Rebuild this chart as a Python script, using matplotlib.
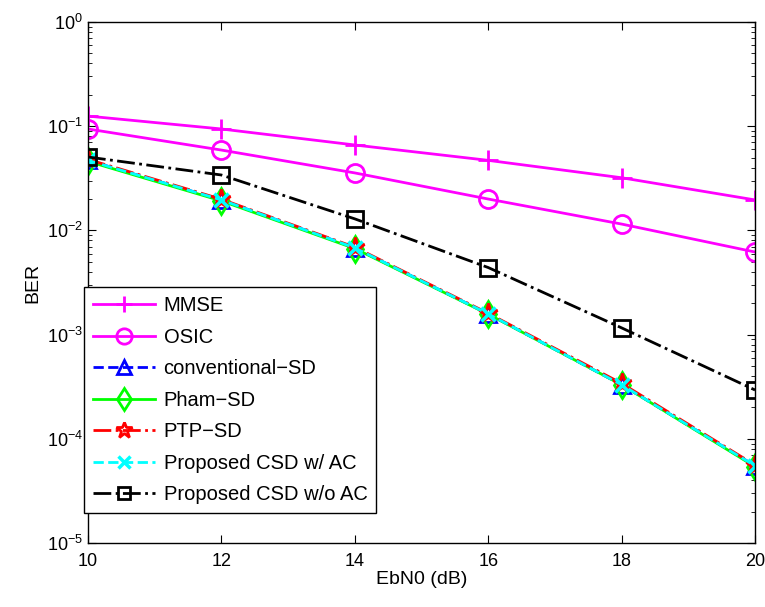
import matplotlib.pyplot as plt
from matplotlib.ticker import LogLocator, NullFormatter

ebn0 = [10, 12, 14, 16, 18, 20]

mmse = [0.125, 0.094, 0.066, 0.047, 0.032, 0.0196]
osic = [0.094, 0.059, 0.0356, 0.020, 0.0115, 0.0062]
conv_sd = [0.047, 0.0196, 0.0068, 0.00158, 0.00033, 5.5e-5]
pham_sd = [0.046, 0.0192, 0.0067, 0.00157, 0.00033, 5.4e-5]
ptp_sd = [0.048, 0.0199, 0.0069, 0.00160, 0.00034, 5.6e-5]
csd_ac = [0.047, 0.0196, 0.0068, 0.00158, 0.00033, 5.5e-5]
csd_noac = [0.0506, 0.034, 0.0129, 0.0044, 0.00116, 0.000294]

plt.rcParams['font.family'] = ['Liberation Sans', 'DejaVu Sans']

fig = plt.figure(figsize=(7.65, 6.07), dpi=100)
ax = fig.add_axes([0.115, 0.1054, 0.872, 0.8584])

ax.semilogy(ebn0, mmse, color='#ff00ff', ls='-', lw=2, marker='+', ms=14, mew=2, label='MMSE')
ax.semilogy(ebn0, osic, color='#ff00ff', ls='-', lw=2, marker='o', ms=13, mew=2,
            mfc='none', label='OSIC')
ax.semilogy(ebn0, conv_sd, color='#0000ff', ls='--', lw=2, marker='^', ms=12, mew=2,
            mfc='none', label='conventional\u2212SD')
ax.semilogy(ebn0, pham_sd, color='#00ff00', ls='-', lw=2, marker='d', ms=13, mew=2,
            mfc='none', label='Pham\u2212SD')
ax.semilogy(ebn0, ptp_sd, color='#ff0000', ls='-.', lw=2, marker='*', ms=14, mew=2,
            mfc='none', label='PTP\u2212SD')
ax.semilogy(ebn0, csd_ac, color='#00ffff', ls='--', lw=2, marker='x', ms=10, mew=2.5,
            label='Proposed CSD w/ AC')
ax.semilogy(ebn0, csd_noac, color='black', ls='-.', lw=2, marker='s', ms=11, mew=2,
            mfc='none', label='Proposed CSD w/o AC')

ax.set_xlim(10, 20)
ax.set_ylim(1e-5, 1)
ax.set_xticks([10, 12, 14, 16, 18, 20])
ax.yaxis.set_major_locator(LogLocator(base=10, numticks=10))
ax.yaxis.set_minor_locator(LogLocator(base=10, subs=range(2, 10), numticks=20))
ax.yaxis.set_minor_formatter(NullFormatter())
ax.tick_params(which='both', direction='in', top=True, right=True, labelsize=13)
ax.tick_params(which='major', length=6)
ax.tick_params(which='minor', length=3)
ax.tick_params(axis='x', pad=7)
for s in ax.spines.values():
    s.set_linewidth(1)

ax.set_xlabel('EbN0 (dB)', fontsize=14, labelpad=1)
ax.set_ylabel('BER', fontsize=14, labelpad=4)

leg = ax.legend(loc='lower left', bbox_to_anchor=(-0.006, 0.057), fontsize=14.5,
                frameon=True, fancybox=False, edgecolor='black', framealpha=1,
                handlelength=3.1, handletextpad=0.4, borderaxespad=0,
                labelspacing=0.62, borderpad=0.45, markerscale=0.85)
leg.get_frame().set_linewidth(1)

fig.savefig('out.png', dpi=100)
